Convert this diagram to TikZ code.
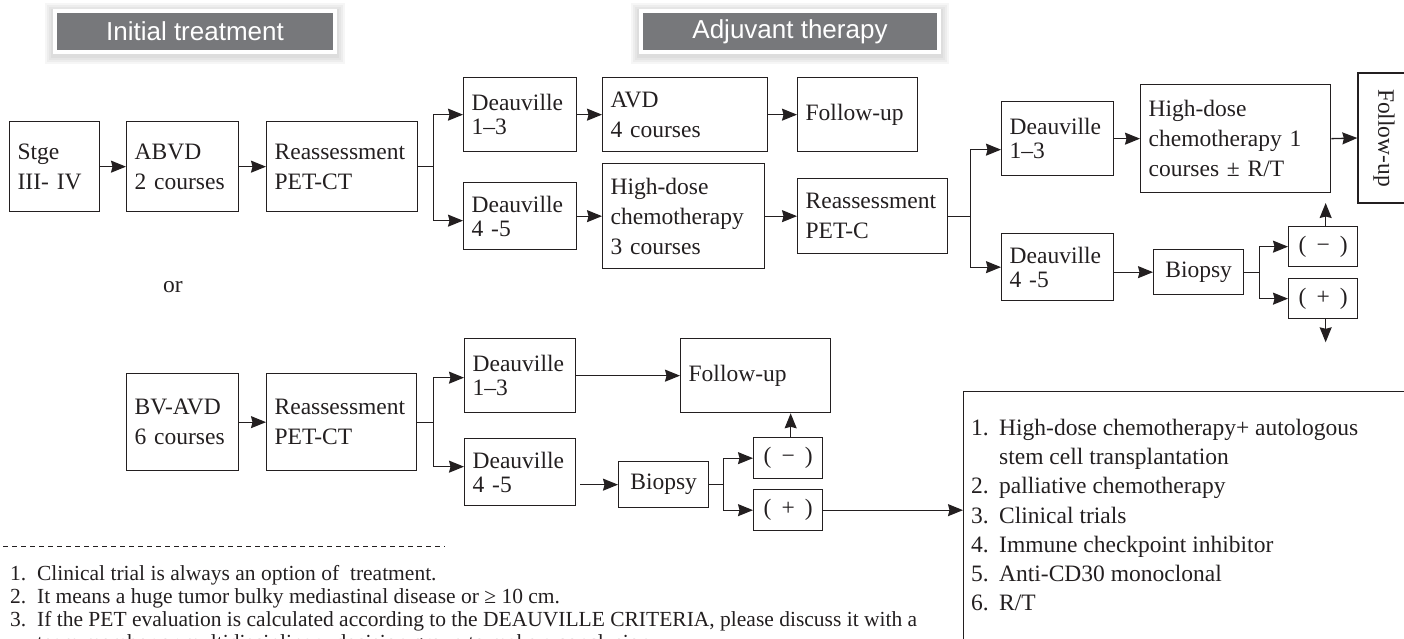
\documentclass[tikz,border=0pt]{standalone}
\usepackage{fontspec}
\setmainfont{Liberation Serif}
\newfontfamily\hdrfont{Liberation Sans}
\usetikzlibrary{arrows.meta}
\definecolor{ln}{HTML}{231F20}
\definecolor{hdrgray}{HTML}{77787B}
\tikzset{
  bx/.style={draw=ln, line width=1.3pt, rectangle, inner xsep=8pt, inner ysep=0pt, align=left,
    anchor=north west, font=\fontsize{23.5}{30}\selectfont, text=ln},
  dv/.style={font=\fontsize{23.5}{24}\selectfont},
  cbx/.style={bx, align=center},
  arr/.style={draw=ln, line width=1.3pt, -{Stealth[length=15pt,width=12pt,inset=1.5pt]}},
  conn/.style={draw=ln, line width=1.3pt},
  hdr/.style={fill=hdrgray, draw=white, line width=4pt, text=white,
    font=\hdrfont\fontsize{26}{28}\selectfont, minimum height=41pt, inner sep=0pt},
  fnote/.style={anchor=base west, inner sep=0pt, font=\fontsize{21.5}{24}\selectfont, text=ln},
}
\begin{document}
\begin{tikzpicture}[x=1pt,y=-1pt]
\useasboundingbox (0,0) rectangle (1404,638);
\clip (0,0) rectangle (1404,638);

% headers with soft shadow
\foreach \e in {2,4,6,8}{
  \fill[black,opacity=0.035] (53-\e,9-\e+2) rectangle (337+\e,54+\e+2);
  \fill[black,opacity=0.035] (639-\e,9-\e+2) rectangle (941+\e,54+\e+2);
}
\node[hdr, minimum width=280pt] (h1) at (195,31.5) {Initial treatment};
\node[hdr, minimum width=298pt] (h2) at (790,31.5) {Adjuvant therapy};

% top pathway
\node[bx, minimum width=90pt, minimum height=90pt, text width=74pt] (stge) at (9,121) {Stge\\III- IV};
\node[bx, minimum width=112pt, minimum height=90pt, text width=96pt] (abvd) at (126,121) {ABVD\\2 courses};
\node[bx, minimum width=151pt, minimum height=90pt, text width=135pt] (pet1) at (266,121) {Reassessment\\PET-CT};
\node[bx, dv, minimum width=113pt, minimum height=74pt, text width=97pt] (d13a) at (463,77) {Deauville\\1–3};
\node[bx, minimum width=165pt, minimum height=74pt, text width=149pt] (avd) at (602,77) {AVD\\4 courses};
\node[bx, minimum width=120pt, minimum height=74pt, text width=104pt] (fu1) at (797,77) {Follow-up};
\node[bx, dv, minimum width=113pt, minimum height=67pt, text width=97pt] (d45a) at (463,182) {Deauville\\4 -5};
\node[bx, minimum width=162pt, minimum height=105pt, text width=146pt] (hd3) at (602,163) {High-dose\\chemotherapy\\3 courses};
\node[bx, minimum width=150pt, minimum height=75pt, text width=134pt] (petc) at (797,178) {Reassessment\\PET-C};
\node[bx, dv, minimum width=112pt, minimum height=74pt, text width=96pt] (d13b) at (1001,101) {Deauville\\1–3};
\node[bx, minimum width=190pt, minimum height=108pt, text width=174pt] (hd1) at (1140,84) {High-dose\\chemotherapy 1\\courses ± R/T};
\node[draw=ln, line width=1.3pt, rotate=-90, minimum width=130pt, minimum height=52pt, inner sep=0pt,
  font=\fontsize{23.5}{30}\selectfont, text=ln] (fu2) at (1384,138) {Follow-up};
\node[bx, dv, minimum width=112pt, minimum height=67pt, text width=96pt] (d45b) at (1001,233) {Deauville\\4 -5};
\node[cbx, minimum width=90pt, minimum height=45pt, text width=74pt] (bio1) at (1153,249) {Biopsy};
\node[cbx, minimum width=69pt, minimum height=40pt, text width=53pt] (neg1) at (1288,226) {(\hspace{10pt}−\hspace{10pt})};
\node[cbx, minimum width=69pt, minimum height=40pt, text width=53pt] (pos1) at (1288,278) {(\hspace{10pt}+\hspace{10pt})};

\draw[arr] (stge.east) -- (abvd.west);
\draw[arr] (abvd.east) -- (pet1.west);
\coordinate (b1) at ([xshift=15pt]pet1.east);
\draw[conn] (pet1.east) -- (b1);
\draw[arr] (b1) |- (d13a.west);
\draw[arr] (b1) |- ([yshift=-4.5pt]d45a.west);
\draw[arr] (d13a.east) -- (avd.west);
\draw[arr] (avd.east) -- (fu1.west);
\draw[arr] (d45a.east) -- (hd3.west);
\draw[arr] (hd3.east) -- (petc.west);
\coordinate (b2) at ([xshift=22pt]petc.east);
\draw[conn] (petc.east) -- (b2);
\draw[arr] (b2) |- ([yshift=-11pt]d13b.west);
\draw[arr] (b2) |- (d45b.west);
\draw[arr] (d13b.east) -- (hd1.west);
\draw[arr] (hd1.east) -- (fu2.south);
\draw[arr] (d45b.east |- bio1.west) -- (bio1.west);
\coordinate (b3) at ([xshift=15pt]bio1.east);
\draw[conn] (bio1.east) -- (b3);
\draw[arr] (b3) |- (neg1.west);
\draw[arr] (b3) |- (pos1.west);
\draw[arr] ([xshift=2.5pt]neg1.north) -- ++(0,-23);
\draw[arr] ([xshift=2.5pt]pos1.south) -- ++(0,23);

\node[font=\fontsize{23.5}{30}\selectfont, text=ln] (or) at (173,287) {or};

% bottom pathway
\node[bx, minimum width=112pt, minimum height=97pt, text width=96pt] (bvavd) at (126,373) {BV-AVD\\6 courses};
\node[bx, minimum width=150pt, minimum height=97pt, text width=134pt] (pet2) at (266,373) {Reassessment\\PET-CT};
\node[bx, dv, minimum width=111pt, minimum height=74pt, text width=95pt] (d13c) at (464,338) {Deauville\\1–3};
\node[bx, minimum width=150pt, minimum height=74pt, text width=134pt] (fu3) at (680,338) {Follow-up};
\node[bx, dv, minimum width=111pt, minimum height=67pt, text width=95pt] (d45c) at (464,438) {Deauville\\4 -5};
\node[cbx, minimum width=90pt, minimum height=46pt, text width=74pt] (bio2) at (618,461) {Biopsy};
\node[cbx, minimum width=69pt, minimum height=41pt, text width=53pt] (neg2) at (753,437) {(\hspace{10pt}−\hspace{10pt})};
\node[cbx, minimum width=69pt, minimum height=41pt, text width=53pt] (pos2) at (753,489) {(\hspace{10pt}+\hspace{10pt})};
\node[draw=ln, line width=1.3pt, minimum width=480pt, minimum height=300pt, anchor=north west, inner sep=0pt] (lst) at (963,391) {};

\draw[arr] (bvavd.east) -- (pet2.west);
\coordinate (b4) at ([xshift=16pt]pet2.east);
\draw[conn] (pet2.east) -- (b4);
\draw[arr] (b4) |- ([yshift=-2pt]d13c.west);
\draw[arr] (b4) |- ([yshift=5.5pt]d45c.west);
\draw[arr] (d13c.east) -- (fu3.west);
\draw[arr] ([xshift=4pt]d45c.east |- bio2.west) -- (bio2.west);
\coordinate (b5) at ([xshift=14pt]bio2.east);
\draw[conn] (bio2.east) -- (b5);
\draw[arr] (b5) |- (neg2.west);
\draw[arr] (b5) |- (pos2.west);
\draw[arr] ([xshift=2.5pt]neg2.north) -- ([xshift=2.5pt]neg2.north |- fu3.south);
\draw[arr] (pos2.east) -- (pos2.east -| lst.west);

\node[anchor=north west, inner sep=0pt, align=left, font=\fontsize{23.5}{29.2}\selectfont, text=ln] (lt) at (971,419)
{\makebox[28pt][l]{1.}High-dose chemotherapy+ autologous\\
 \hspace*{28pt}stem cell transplantation\\
 \makebox[28pt][l]{2.}palliative chemotherapy\\
 \makebox[28pt][l]{3.}Clinical trials\\
 \makebox[28pt][l]{4.}Immune checkpoint inhibitor\\
 \makebox[28pt][l]{5.}Anti-CD30 monoclonal\\
 \makebox[28pt][l]{6.}R/T};

% footnotes
\draw[draw=ln, line width=0.8pt, dash pattern=on 5pt off 4pt] (3,546) -- (445,546);
\node[fnote] (fn1) at (10,580) {\makebox[26.9pt][l]{1.}Clinical trial is always an option of\ \ treatment.};
\node[fnote] (fn2) at (10,603) {\makebox[26.9pt][l]{2.}It means a huge tumor bulky mediastinal disease or ≥ 10 cm.};
\node[fnote] (fn3) at (10,626) {\makebox[26.9pt][l]{3.}If the PET evaluation is calculated according to the DEAUVILLE CRITERIA, please discuss it with a};
\node[fnote] (fn4) at (10,649) {\hspace*{26.9pt}team member or multidisciplinary decision group to make a conclusion.};
\end{tikzpicture}
\end{document}
